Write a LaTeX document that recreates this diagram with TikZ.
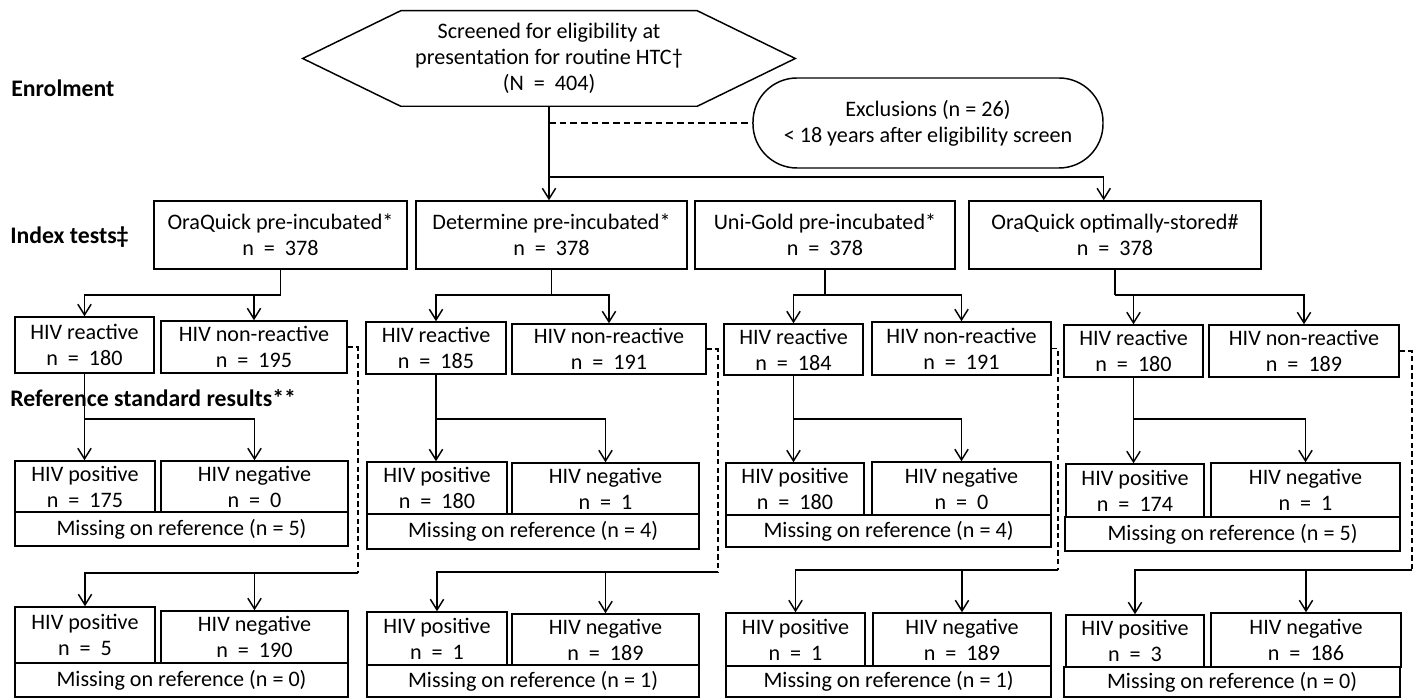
\documentclass[tikz,border=0pt]{standalone}
\usepackage{fontspec}
\setmainfont{Carlito}
\usetikzlibrary{arrows.meta,calc}
\newcommand{\fs}{\fontsize{16.6}{19.5}\selectfont}
\newcommand{\mybox}[6]{\node[box, minimum width={(#4-#2)*0.75pt}, minimum height={(#5-#3)*0.75pt}]
  (#1) at ({(#2+#4)/2},{(#3+#5)/2}) {#6};}
\begin{document}
\begin{tikzpicture}[x=0.75pt,y=-0.75pt,
  box/.style={draw, line width=1.1pt, inner sep=0pt, align=center, font=\fs, anchor=center},
  arr/.style={line width=1.1pt, -{Straight Barb[length=8pt,width=10pt]}},
  conn/.style={line width=1.1pt},
  dsh/.style={line width=0.8pt, dash pattern=on 4pt off 2.5pt},
  lab/.style={anchor=west, font=\fontsize{17.8}{21}\selectfont\bfseries, inner sep=0pt}]
\useasboundingbox (0,0) rectangle (1418,698);

% labels
\node[lab] (lenrol) at (11,88) {Enrolment};
\node[lab] (lindex) at (10,237) {Index tests‡};
\node[lab] (lref) at (10,398) {Reference standard results**};

% top
\node[minimum width={296*0.75pt}, minimum height={95*0.75pt}, inner sep=0pt, align=center, font=\fs]
  (hex) at (549,58.5) {Screened for eligibility at\\presentation for routine HTC†\\(N~ = ~404)};
\draw[line width=1.1pt] (hex.north west) -- (hex.north east) -- ($(hex.east)+(98,0)$)
  -- (hex.south east) -- (hex.south west) -- ($(hex.west)+(-98,0)$) -- cycle;
\node[draw, line width=1.1pt, rounded corners=33pt, minimum width={350*0.75pt}, minimum height={90*0.75pt},
  inner sep=0pt, align=center, font=\fs] (ex) at (928,123) {Exclusions (n = 26)\\< 18 years after eligibility screen};

% index tests
\mybox{i1}{154}{201}{407}{269}{OraQuick pre-incubated*\\n~ = ~378}
\mybox{i2}{416}{201}{687}{269}{Determine pre-incubated*\\n~ = ~378}
\mybox{i3}{695}{201}{955}{269}{Uni-Gold pre-incubated*\\n~ = ~378}
\mybox{i4}{969}{201}{1261}{269}{OraQuick optimally-stored\#\\n~ = ~378}

% top connectors
\draw[arr] (hex.south) -- (hex.south |- i2.north);
\draw[dsh, dash pattern=on 5pt off 3pt] (hex.south |- ex.west) -- (ex.west);
\draw[arr] (hex.south |- 0,177) coordinate (jtop) -| (ex.east |- i4.north);

% column 1
\mybox{r1}{15}{317}{154}{373}{HIV reactive\\n~ = ~180}
\mybox{n1}{161}{321}{347}{373}{HIV non-reactive\\n~ = ~195}
\mybox{p1}{15}{461}{155}{512}{HIV positive\\n~ = ~175}
\mybox{g1}{161}{461}{348}{512}{HIV negative\\n~ = ~0}
\mybox{m1}{15}{512}{348}{546}{Missing on reference (n = 5)}
\mybox{q1}{15}{607}{155}{663}{HIV positive\\n~ = ~5}
\mybox{h1}{161}{611}{348}{663}{HIV negative\\n~ = ~190}
\mybox{s1}{15}{663}{348}{697}{Missing on reference (n = 0)}

% column 2
\mybox{r2}{366}{322}{506}{374}{HIV reactive\\n~ = ~185}
\mybox{n2}{512}{324}{706}{374}{HIV non-reactive\\n~ = ~191}
\mybox{p2}{367}{462}{507}{514}{HIV positive\\n~ = ~180}
\mybox{g2}{512}{463}{699}{514}{HIV negative\\n~ = ~1}
\mybox{m2}{367}{514}{699}{549}{Missing on reference (n = 4)}
\mybox{q2}{367}{612}{507}{665}{HIV positive\\n~ = ~1}
\mybox{h2}{512}{614}{699}{665}{HIV negative\\n~ = ~189}
\mybox{s2}{367}{665}{699}{697}{Missing on reference (n = 1)}

% column 3
\mybox{r3}{724}{324}{863}{375}{HIV reactive\\n~ = ~184}
\mybox{n3}{872}{322}{1051}{375}{HIV non-reactive\\n~ = ~191}
\mybox{p3}{726}{463}{864}{515}{HIV positive\\n~ = ~180}
\mybox{g3}{872}{462}{1051}{515}{HIV negative\\n~ = ~0}
\mybox{m3}{726}{515}{1051}{547}{Missing on reference (n = 4)}
\mybox{q3}{726}{613}{865}{666}{HIV positive\\n~ = ~1}
\mybox{h3}{873}{613}{1051}{666}{HIV negative\\n~ = ~189}
\mybox{s3}{726}{666}{1051}{697}{Missing on reference (n = 1)}

% column 4
\mybox{r4}{1064}{325}{1203}{377}{HIV reactive\\n~ = ~180}
\mybox{n4}{1209}{325}{1399}{377}{HIV non-reactive\\n~ = ~189}
\mybox{p4}{1066}{464}{1204}{517}{HIV positive\\n~ = ~174}
\mybox{g4}{1211}{463}{1400}{517}{HIV negative\\n~ = ~1}
\mybox{m4}{1065}{517}{1400}{551}{Missing on reference (n = 5)}
\mybox{q4}{1066}{615}{1204}{667}{HIV positive\\n~ = ~3}
\mybox{h4}{1211}{613}{1401}{667}{HIV negative\\n~ = ~186}
\mybox{s4}{1064}{667}{1400}{697}{Missing on reference (n = 0)}

% column connectors
\foreach \c/\dx/\ey in {1/358/573, 2/718/572, 3/1058/570, 4/1412/570}{
  \draw[conn] (i\c.south) -- (i\c.south |- 0,295) coordinate (k\c);
  \draw[arr] (k\c) -| (r\c.north);
  \draw[arr] (k\c) -| (n\c.north);
  \draw[arr] (r\c.south) -- (r\c.south |- p\c.north);
  \draw[arr] (r\c.south |- 0,419) -| (g\c.north);
  \draw[dsh] (n\c.east) -- (n\c.east -| \dx,0) -- (\dx,\ey) coordinate (e\c);
  \draw[arr] (e\c) -| (q\c.north);
  \draw[arr] (e\c -| h\c.north) -- (h\c.north);
}
\end{tikzpicture}
\end{document}
